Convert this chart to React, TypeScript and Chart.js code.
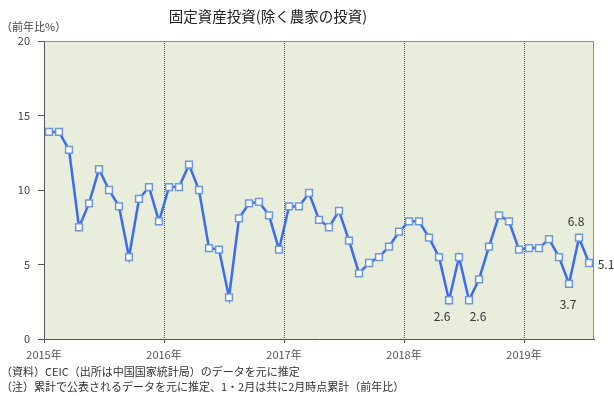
import React, { useEffect, useRef } from "react";
import { Chart, registerables } from "chart.js";

Chart.register(...registerables);

const years = ["2015年", "2016年", "2017年", "2018年", "2019年"];
const monthsPerYear = 12;

// 2015-01 .. 2019-07 (1・2月は共に2月時点累計)
const months: string[] = [];
["2015", "2016", "2017", "2018", "2019"].forEach((y) => {
  for (let m = 1; m <= 12; m++) months.push(`${y}-${String(m).padStart(2, "0")}`);
});
const categories = months.slice(0, 55);

const values = [
  13.9, 13.9, 12.7, 7.5, 9.1, 11.4, 10.0, 8.9, 5.5, 9.4, 10.2, 7.9,
  10.2, 10.2, 11.7, 10.0, 6.1, 6.0, 2.8, 8.1, 9.1, 9.2, 8.3, 6.0,
  8.9, 8.9, 9.8, 8.0, 7.5, 8.6, 6.6, 4.4, 5.1, 5.5, 6.2, 7.2,
  7.9, 7.9, 6.8, 5.5, 2.6, 5.5, 2.6, 4.0, 6.2, 8.3, 7.9, 6.0,
  6.1, 6.1, 6.7, 5.5, 3.7, 6.8, 5.1,
];

const yTicks = [0, 5, 10, 15, 20];
const labelledPoints = [40, 42, 52, 53, 54];

const titleText = "固定資産投資(除く農家の投資)";
const unitText = "（前年比%）";
const notes = [
  "（資料）CEIC（出所は中国国家統計局）のデータを元に推定",
  "（注）累計で公表されるデータを元に推定、1・2月は共に2月時点累計（前年比）",
];

const FONT = '"Noto Sans CJK JP", "Noto Sans", sans-serif';
const labelOffsets: Record<number, [number, number]> = {
  40: [-7, 16],
  42: [9, 16],
  52: [-1, 21],
  53: [-3, -16],
  54: [17, 1],
};

const decorPlugin = {
  id: "decor",
  beforeDraw(chart: any) {
    const { ctx, chartArea: a } = chart;
    ctx.save();
    ctx.fillStyle = "#e9eddc";
    ctx.fillRect(a.left, a.top, a.right - a.left, a.bottom - a.top);
    ctx.restore();
  },
  afterDraw(chart: any) {
    const { ctx, chartArea: a } = chart;
    ctx.save();
    ctx.strokeStyle = "#8a8a8a";
    ctx.lineWidth = 1;
    ctx.beginPath();
    ctx.moveTo(a.left, a.top + 0.5);
    ctx.lineTo(a.right - 0.5, a.top + 0.5);
    ctx.lineTo(a.right - 0.5, a.bottom);
    ctx.stroke();

    ctx.fillStyle = "#222";
    ctx.font = `14.5px ${FONT}`;
    ctx.textAlign = "center";
    ctx.textBaseline = "middle";
    ctx.fillText(titleText, 268, 16);

    ctx.fillStyle = "#444";
    ctx.font = `11px ${FONT}`;
    ctx.textAlign = "left";
    ctx.fillText(unitText, 1, 27);

    ctx.fillStyle = "#333";
    ctx.fillText(notes[0], 1, 372);
    ctx.fillText(notes[1], 1, 387);

    // value labels
    const meta = chart.getDatasetMeta(0);
    ctx.fillStyle = "#333";
    ctx.font = `12px ${FONT}`;
    ctx.textAlign = "center";
    labelledPoints.forEach((i) => {
      const el = meta.data[i];
      const [dx, dy] = labelOffsets[i];
      ctx.fillText(values[i].toFixed(1), el.x + dx, el.y + dy);
    });
    ctx.restore();
  },
};

export default function App() {
  const ref = useRef<HTMLCanvasElement | null>(null);
  useEffect(() => {
    if (!ref.current) return;
    const chart = new Chart(ref.current, {
      type: "line",
      data: {
        datasets: [
          {
            label: "固定資産投資",
            data: values.map((v, i) => ({ x: i + 0.5, y: v })),
            borderColor: "#3a6cf2",
            borderWidth: 2.5,
            pointStyle: "rect",
            pointRadius: 4.8,
            pointBackgroundColor: "#ffffff",
            pointBorderColor: "#6d97dc",
            pointBorderWidth: 1.5,
            tension: 0,
          },
        ],
      },
      options: {
        responsive: false,
        animation: false,
        layout: { padding: { left: 0, right: 20, top: 41, bottom: 33 } },
        plugins: { legend: { display: false }, tooltip: { enabled: false }, title: { display: false } },
        scales: {
          x: {
            type: "linear",
            min: 0,
            max: categories.length,
            afterBuildTicks: (scale: any) => {
              scale.ticks = years.map((_, i) => ({ value: i * monthsPerYear }));
            },
            afterFit: (scale: any) => {
              scale.height = 24;
            },
            ticks: {
              autoSkip: false,
              maxRotation: 0,
              padding: 5,
              color: "#555",
              font: { family: FONT, size: 11 },
              callback: (v: any) => years[Math.round(Number(v) / monthsPerYear)],
            },
            grid: {
              color: "#555",
              lineWidth: 1,
              drawTicks: true,
              tickLength: 4,
              tickColor: "#555",
            },
            border: { display: true, color: "#555", width: 1, dash: [1, 1] },
          },
          y: {
            min: 0,
            max: 20,
            afterBuildTicks: (scale: any) => {
              scale.ticks = yTicks.map((v) => ({ value: v }));
            },
            afterFit: (scale: any) => {
              scale.width = 44;
            },
            ticks: {
              padding: 8,
              color: "#444",
              font: { family: FONT, size: 11 },
            },
            grid: {
              drawOnChartArea: false,
              drawTicks: true,
              tickLength: 6,
              tickColor: "#555",
            },
            border: { display: true, color: "#555", width: 1 },
          },
        },
      },
      plugins: [decorPlugin],
    } as any);
    return () => chart.destroy();
  }, []);
  return (
    <div style={{ position: "absolute", left: 0, top: 0, width: 614, height: 396 }}>
      <canvas ref={ref} width={614} height={396} />
    </div>
  );
}
